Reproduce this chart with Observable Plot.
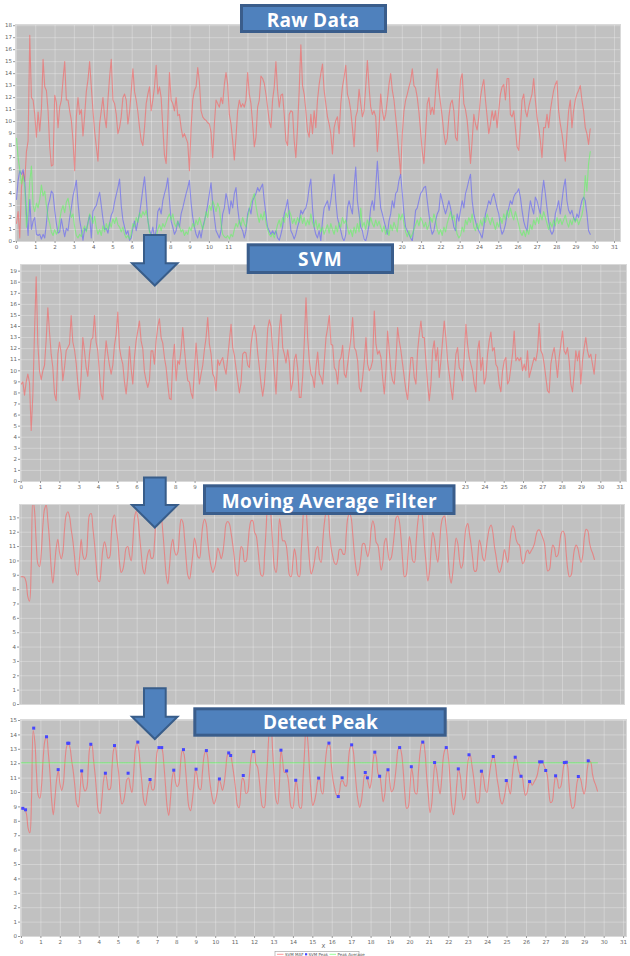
<!DOCTYPE html>
<html><head><meta charset="utf-8">
<script src="https://cdn.jsdelivr.net/npm/d3@7"></script>
<script src="https://cdn.jsdelivr.net/npm/@observablehq/plot@0.6"></script>
<style>
html,body{margin:0;padding:0;background:#fff;}
#page{position:relative;width:630px;height:956px;overflow:hidden;background:#fff;}
</style></head><body><div id="page"></div>
<script>
// ---- data ----
const sampleInterval = 5 / 58; // seconds between readings

// Raw accelerometer axes
const rawAccX = [1.5,2.5,0.3,4.5,5.8,5.0,7.5,8.4,17.2,12.0,11.8,10.6,8.7,10.8,9.2,11.0,15.2,12.9,12.6,10.9,7.9,6.3,6.4,12.2,11.6,9.5,11.2,11.8,13.5,15.0,11.8,11.8,10.9,10.1,8.4,5.9,10.4,12.0,10.6,11.0,8.8,10.5,12.5,13.5,15.0,12.9,10.9,9.2,7.9,6.7,9.8,10.9,12.0,10.4,9.5,11.8,13.7,15.2,11.8,11.5,10.6,9.0,9.5,10.4,12.0,12.3,11.8,9.8,10.8,12.5,14.4,12.5,11.8,10.8,9.5,8.4,8.0,9.5,11.5,12.3,12.9,10.9,11.8,12.9,14.7,12.3,12.9,12.0,9.5,7.2,6.5,10.0,14.1,11.8,11.5,10.9,12.0,10.5,10.6,9.5,8.7,9.0,8.6,8.2,5.9,9.5,11.8,12.6,12.9,14.5,13.3,10.9,10.4,10.2,10.1,9.9,9.8,9.1,7.0,9.8,11.8,11.5,11.2,12.0,11.5,13.1,14.1,13.1,10.6,9.8,8.4,6.8,8.7,10.9,11.8,11.2,11.5,11.2,11.8,14.1,12.3,11.5,9.8,7.9,8.7,11.2,11.8,13.8,13.6,13.2,12.3,11.2,10.0,9.5,11.8,12.9,15.0,12.6,11.2,12.2,12.3,10.6,8.4,8.0,10.6,10.9,10.8,8.4,7.0,9.5,12.6,16.4,13.0,12.3,10.9,9.2,8.7,10.6,9.0,10.9,9.5,11.8,13.1,14.0,14.8,12.6,11.5,10.4,9.8,9.0,7.3,9.5,10.1,10.4,9.0,11.5,12.9,13.7,14.7,12.3,11.8,10.9,9.5,7.9,10.4,10.9,12.7,11.5,10.4,10.9,12.9,15.1,12.9,11.2,10.6,10.9,10.4,7.5,9.5,12.3,10.9,10.1,10.6,11.8,13.1,14.0,12.6,11.8,10.4,9.0,7.3,5.6,9.0,10.9,11.8,12.3,12.9,13.4,14.4,13.0,12.8,12.0,10.8,9.2,7.5,6.5,9.0,11.5,12.0,10.6,11.2,10.6,12.5,14.4,12.6,11.5,10.4,9.0,8.1,8.6,10.4,11.5,11.8,10.9,8.7,8.4,11.0,13.5,14.0,11.5,11.0,10.1,8.5,6.5,8.4,10.6,9.8,9.3,10.4,12.0,12.9,13.5,11.8,10.4,9.0,9.8,10.9,10.1,10.9,9.5,10.9,12.3,12.9,13.1,11.8,13.6,13.6,10.6,10.4,10.9,9.5,7.9,7.6,9.5,11.8,12.3,10.9,10.4,11.2,11.8,12.3,13.6,11.8,10.4,9.5,8.4,7.0,9.5,9.5,10.6,9.5,10.9,11.8,12.6,13.1,13.4,10.9,9.8,9.0,7.9,6.7,9.0,10.9,11.8,9.5,10.9,11.8,12.3,12.6,13.0,11.8,10.9,9.5,9.0,8.1,9.4];
const rawAccY = [3.5,5.1,5.9,5.6,6.0,5.0,2.3,0.5,3.5,1.0,1.7,2.0,0.6,0.5,0.6,0.2,0.6,0.3,1.5,3.0,3.5,4.2,4.0,2.6,1.5,0.7,0.8,1.9,1.1,0.4,1.1,0.9,2.0,2.8,3.8,4.4,5.1,3.2,1.8,1.0,0.1,1.1,0.9,1.6,2.2,0.3,2.5,2.8,3.0,3.6,4.1,3.0,1.9,1.0,1.1,0.7,1.5,2.2,2.5,3.3,3.9,4.5,5.2,3.0,1.8,1.2,0.6,0.9,0.1,0.3,1.1,1.7,0.9,1.7,2.3,3.3,4.4,5.4,3.7,1.8,0.9,0.6,1.2,0.3,0.9,2.5,2.8,2.3,3.4,4.0,4.5,5.3,3.5,1.7,1.2,0.6,0.9,1.7,1.2,2.3,2.8,3.4,4.0,4.5,5.1,3.2,2.0,1.2,0.6,0.3,0.9,0.3,1.2,1.7,2.3,3.1,4.0,4.9,3.1,2.0,0.9,0.6,0.3,0.9,2.3,2.8,4.0,3.4,2.3,3.4,2.8,4.0,4.5,2.8,1.7,1.2,0.9,0.3,0.9,2.3,2.8,2.3,3.4,3.7,4.0,4.5,4.2,4.5,4.8,3.4,2.3,1.2,0.9,0.6,0.9,0.6,0.9,0.3,0.1,0.6,1.2,2.3,2.8,3.5,2.3,0.9,0.6,0.2,0.6,1.2,1.7,2.6,2.3,2.6,2.8,3.4,4.5,5.2,2.8,1.2,0.6,0.3,0.9,0.05,1.7,2.8,3.1,3.4,2.6,3.4,4.5,5.6,3.4,2.0,1.4,0.9,0.3,0.05,0.6,2.8,3.4,2.8,2.3,4.5,6.2,3.4,2.3,1.2,0.9,0.2,0.05,0.6,1.4,2.8,3.4,2.6,4.5,6.7,4.5,2.8,2.3,1.7,1.2,0.6,1.7,2.3,3.4,2.8,4.0,4.2,5.1,5.6,4.0,2.3,1.2,0.9,0.6,0.3,0.05,1.2,2.6,2.8,3.4,4.0,4.2,4.5,4.6,3.4,2.3,1.2,0.6,0.9,1.7,2.3,2.6,4.0,3.4,2.8,2.3,2.8,3.4,2.8,2.0,1.2,0.9,2.3,1.7,2.6,3.4,2.8,4.0,4.5,5.1,5.6,3.4,2.3,1.7,1.2,0.9,0.6,0.3,1.2,2.3,2.8,3.4,3.1,3.7,4.0,3.4,2.8,2.3,1.2,0.6,0.9,1.4,2.3,2.8,3.4,3.1,3.7,4.0,4.1,4.4,3.7,2.6,1.7,1.2,0.9,2.3,3.4,2.8,2.3,3.7,3.4,2.8,2.3,4.0,5.1,4.0,2.8,1.7,0.9,0.6,0.9,2.3,2.8,3.4,2.3,3.4,4.5,5.2,3.4,2.6,2.3,2.6,2.0,1.7,2.3,2.0,2.8,3.4,3.7,3.4,2.3,0.9,0.6];
const rawAccZ = [8.6,7.0,6.0,4.8,5.5,4.5,1.2,2.5,5.0,6.3,3.0,2.5,3.2,2.8,3.5,4.7,3.8,4.2,3.0,2.0,1.5,0.8,0.5,1.0,0.6,0.9,1.8,2.6,3.0,2.4,3.3,3.6,2.8,2.0,2.3,1.2,0.5,0.3,0.6,0.4,1.0,1.3,0.8,1.5,2.3,2.0,1.5,2.1,1.2,0.6,1.0,0.5,1.3,0.8,1.5,1.0,1.6,1.2,1.9,1.5,2.0,1.4,1.2,0.8,1.2,0.6,0.3,0.5,0.2,0.6,1.5,1.2,2.0,1.6,2.4,2.0,2.5,2.2,2.6,1.8,0.8,0.5,0.3,0.6,0.4,1.0,1.4,0.9,1.5,1.2,1.6,2.0,2.3,1.8,2.3,1.5,1.2,1.7,1.3,0.8,1.0,0.5,0.8,0.6,1.2,0.9,1.5,1.2,1.8,1.4,2.0,1.5,1.0,1.6,2.5,2.0,3.0,2.6,3.4,3.0,2.5,3.2,2.8,1.5,0.6,0.4,0.3,0.5,0.2,0.6,0.4,1.0,1.5,1.2,1.8,1.3,2.0,1.5,1.2,2.0,2.6,3.2,3.6,4.0,3.0,2.2,1.6,2.3,1.8,2.5,1.6,1.0,0.6,0.4,0.7,0.3,0.8,1.4,1.8,1.2,2.0,1.6,2.4,2.0,2.6,2.2,1.5,1.9,1.4,2.0,1.6,2.2,1.5,2.0,1.3,1.8,1.4,2.3,1.6,1.2,1.8,1.0,1.5,0.8,1.2,0.6,1.0,1.4,0.7,1.5,1.0,0.6,1.3,0.8,1.6,1.2,2.0,1.5,1.8,1.2,0.6,1.0,0.4,1.2,0.7,1.5,0.8,2.8,1.2,1.6,1.0,1.8,1.3,2.0,1.5,1.2,1.8,1.3,1.7,1.2,0.8,1.3,0.6,1.0,0.5,1.4,0.9,1.6,1.2,0.8,2.3,1.8,2.3,1.5,0.8,0.4,0.9,0.3,0.6,1.0,1.4,1.8,1.3,2.0,1.7,1.2,1.6,1.0,1.4,2.0,1.6,2.3,1.8,1.0,0.6,1.0,0.5,1.2,0.8,1.5,2.0,2.5,1.8,2.2,1.3,0.6,0.3,0.5,1.2,0.8,1.8,1.4,2.0,1.6,2.3,1.2,0.9,1.5,1.0,1.8,1.3,2.0,1.6,2.3,1.8,1.4,2.0,1.5,1.0,1.6,1.2,2.0,1.5,2.3,1.8,2.6,2.0,2.8,2.2,1.8,2.5,2.0,1.4,0.8,0.5,0.9,0.4,1.0,0.6,1.4,1.0,1.8,1.4,2.0,1.5,2.3,1.8,2.5,2.0,1.5,1.0,1.6,1.2,1.8,1.3,2.0,1.5,1.9,1.4,1.8,2.2,1.6,1.2,1.8,1.4,2.0,1.6,1.9,1.4,1.8,2.2,3.0,5.5,4.2,6.5,7.5];

// Signal vector magnitude
const svmValues = [8.8,9.0,7.8,9.0,9.7,8.9,4.6,7.8,13.5,18.5,12.4,10.0,9.2,10.0,10.5,12.8,15.7,13.5,11.5,10.3,7.9,7.3,11.5,12.6,11.6,9.1,10.3,11.8,12.1,12.4,15.0,12.6,11.9,10.7,8.9,7.4,9.5,13.0,11.8,10.3,9.5,11.5,12.8,13.0,15.0,12.6,11.8,9.7,7.9,7.4,10.8,12.7,11.5,10.5,9.7,10.5,12.3,13.3,15.3,12.1,11.2,10.6,9.0,7.9,9.5,12.2,10.2,8.8,11.2,12.7,13.6,14.5,12.7,12.0,9.9,9.1,8.5,9.1,11.8,11.8,10.6,12.7,14.0,14.7,13.0,12.5,11.2,10.3,8.8,7.5,7.4,10.9,12.4,9.1,10.9,10.6,11.9,13.9,12.0,10.3,9.1,9.0,8.0,7.5,10.0,12.5,10.6,8.8,9.7,10.5,11.9,13.0,14.8,12.4,11.5,9.7,9.4,8.2,11.0,10.5,10.9,11.2,10.3,9.7,11.2,12.7,14.2,12.1,11.4,10.2,9.1,8.0,8.9,11.5,11.7,11.6,10.5,10.3,12.4,13.5,14.1,13.3,11.6,10.3,8.8,7.7,8.8,10.9,13.8,14.6,14.0,11.9,9.8,7.9,11.2,13.8,15.1,12.1,11.5,10.7,11.9,10.8,8.2,9.0,11.0,11.5,10.2,7.6,7.6,9.5,12.7,16.6,13.0,10.9,9.7,9.4,8.5,10.3,11.7,9.7,
  9.4,8.8,10.9,13.0,13.9,15.0,12.4,12.3,10.3,10.0,8.8,10.9,11.2,12.3,9.7,9.4,10.6,11.8,13.0,14.8,12.1,11.8,10.9,8.5,8.1,9.4,10.9,13.0,10.6,10.0,10.3,10.9,15.4,12.4,11.5,11.8,11.2,9.4,7.9,10.0,13.6,11.8,10.0,9.1,8.8,10.9,13.9,12.7,11.8,10.6,9.4,8.2,7.4,9.4,11.2,11.2,9.4,8.8,11.8,13.3,14.5,13.0,13.0,10.9,8.8,7.3,8.8,11.8,12.7,10.9,12.1,9.4,10.9,12.7,14.5,13.0,10.9,9.7,8.5,7.4,9.4,11.5,12.1,10.3,10.0,9.1,11.2,14.2,12.4,11.2,10.6,10.0,8.8,8.1,11.8,12.7,10.0,11.2,8.8,9.4,11.5,12.7,13.5,11.8,12.1,10.6,10.3,8.8,8.1,10.0,10.9,11.2,8.8,9.1,10.3,11.5,13.6,10.9,11.2,10.9,11.2,10.0,10.6,10.0,11.8,9.4,10.0,10.6,11.2,10.9,11.8,14.3,11.8,11.5,10.6,9.4,8.2,8.0,10.6,11.5,12.1,10.9,9.4,11.2,12.4,13.6,11.8,11.5,12.1,10.9,8.8,8.1,9.7,11.8,10.9,11.8,8.8,10.9,12.1,13.0,11.8,11.2,11.5,10.6,9.7,11.5];

// SVM after moving average filter
const mafValues = [8.9,8.9,8.85,8.5,7.5,7.2,9.6,14.3,13.5,11.3,9.8,9.6,10.5,12.45,13.6,13.87,12.8,11.4,9.5,8.45,9.6,10.9,11.5,10.6,10.15,10.6,12.2,13.2,13.42,13.1,12.2,11.4,10.3,9.2,9.0,10.2,11.5,10.4,10.1,10.3,12.0,13.2,13.3,12.3,11.2,9.8,8.7,8.55,9.5,10.8,11.34,10.9,10.2,10.25,11.6,12.95,13.2,12.3,11.4,9.9,9.2,9.4,10.1,10.9,11.0,10.4,10.0,11.3,13.0,13.45,13.0,11.76,10.6,9.44,9.1,9.8,10.5,10.8,10.2,10.2,11.3,12.8,13.12,13.15,13.0,12.0,10.5,9.0,8.4,9.6,11.0,11.5,10.7,10.4,10.6,12.0,12.9,12.7,11.6,10.1,9.0,8.74,9.44,10.5,11.6,11.06,10.3,10.2,11.3,12.5,12.9,12.6,11.3,10.3,9.6,9.2,9.5,10.1,10.9,10.6,10.15,10.6,11.6,12.6,12.75,12.57,11.9,11.1,10.1,9.1,8.95,10.1,11.0,10.8,9.95,10.0,11.0,12.3,12.8,12.8,12.0,11.76,10.9,9.7,9.0,8.95,10.36,12.3,14.2,14.6,12.9,11.0,9.5,9.2,10.5,12.94,12.2,11.4,11.4,11.1,10.1,9.0,8.9,9.9,10.85,10.2,9.0,8.9,10.6,12.7,14.6,13.6,11.6,10.0,9.1,9.4,10.0,10.8,11.0,
  10.13,9.9,11.4,12.7,13.3,13.3,12.0,10.9,10.3,9.85,9.75,10.1,10.8,10.8,10.5,10.45,11.8,13.0,13.3,13.0,11.8,10.4,9.45,8.97,9.4,10.4,11.2,11.2,10.7,10.3,10.8,12.2,12.8,12.4,11.3,11.13,10.3,9.35,9.9,11.3,11.58,10.7,10.05,10.2,10.9,12.0,13.0,13.12,12.7,11.5,9.9,8.9,9.0,10.3,11.7,11.0,10.0,9.9,11.3,12.7,13.4,13.5,12.8,11.1,9.8,8.6,9.2,10.9,12.0,11.5,10.5,9.9,11.0,12.5,13.0,13.12,12.4,10.8,9.1,8.45,9.2,10.6,11.6,11.2,10.1,9.5,9.8,11.3,12.35,12.6,11.9,11.1,10.1,9.3,9.3,10.3,11.45,11.0,10.2,10.0,10.8,11.7,12.3,12.5,12.0,11.0,10.3,9.5,9.2,9.5,10.1,10.8,10.3,9.9,11.0,12.0,12.45,12.2,11.5,11.2,11.1,10.3,9.8,10.0,10.6,10.76,10.5,10.7,10.9,11.2,11.8,12.13,12.15,11.9,11.6,11.2,10.0,9.3,9.4,10.4,11.1,10.9,10.3,10.4,11.1,11.9,12.08,11.9,10.6,9.4,8.9,9.0,9.9,10.8,11.1,10.9,10.3,9.9,10.4,11.7,12.2,12.1,11.3,10.8,10.5,10.1];

// Detected peaks
const peakTimes = [0.07,0.21,0.63,1.29,1.89,2.38,2.44,3.10,3.57,4.32,4.79,5.49,5.99,6.62,7.08,7.22,7.84,8.34,8.99,9.52,10.19,10.67,10.77,11.42,11.96,12.83,13.36,13.65,14.12,14.65,15.30,15.83,16.31,16.51,17.00,17.70,17.81,18.19,18.44,18.87,19.47,20.07,20.66,21.27,21.87,22.49,23.04,23.68,24.29,24.96,25.42,25.72,26.16,26.68,26.80,26.99,27.50,27.95,28.05,28.67,29.18];
const peakValues = [8.9,8.8,14.47,13.87,11.59,13.42,13.42,11.5,13.35,11.34,13.26,11.34,13.5,10.9,13.12,13.12,11.55,12.98,11.62,12.91,10.94,12.75,12.57,11.18,12.84,14.6,12.94,11.5,10.85,14.6,11.0,13.43,9.72,11.02,13.31,11.39,11.02,12.8,11.13,11.58,13.12,11.79,13.5,12.08,13.12,11.64,12.62,11.48,12.5,10.83,12.45,11.13,10.76,12.13,12.13,11.53,11.16,12.08,12.1,11.11,12.2];
const peakAverage = 12.06;

// Text
const panelTitles = ["Raw Data", "SVM", "Moving Average Filter", "Detect Peak"];
const legendNames = ["SVM MAF", "SVM Peak", "Peak Average"];
const xAxisLabel = "X";
const xTickValues = [0,1,2,3,4,5,6,7,8,9,10,11,12,13,14,15,16,17,18,19,20,21,22,23,24,25,26,27,28,29,30,31];
const yTicks18 = [0,1,2,3,4,5,6,7,8,9,10,11,12,13,14,15,16,17,18];
const yTicks19 = [0,1,2,3,4,5,6,7,8,9,10,11,12,13,14,15,16,17,18,19];
const yTicks13 = [0,1,2,3,4,5,6,7,8,9,10,11,12,13];
const yTicks15 = [0,1,2,3,4,5,6,7,8,9,10,11,12,13,14,15];

// ---- overlay geometry (title boxes and arrows drawn on top) ----
const arrowGeo = [
  {x0: 144, x1: 165.7, top: 235, head: 263.3, tip: 285.5},
  {x0: 144, x1: 165.7, top: 477.5, head: 505, tip: 527.5},
  {x0: 144, x1: 165.7, top: 688.3, head: 716.7, tip: 739}
];
const titleGeo = [
  {x: 240, y: 4, w: 147, h: 29, tx: 266.7, ty: 26.7, tw: 92.6},
  {x: 246.7, y: 243.3, w: 147.3, h: 30.7, tx: 298, ty: 265.7, tw: 43.7},
  {x: 203, y: 484.3, w: 252.5, h: 30.7, tx: 221.7, ty: 507.7, tw: 215},
  {x: 193.3, y: 707.3, w: 253.4, h: 29.4, tx: 263, ty: 729.3, tw: 114.7}
];

// ---- build ----
const toSeries = vals => vals.map((v, i) => ({t: i * sampleInterval, v}));
const redS = toSeries(rawAccX), blueS = toSeries(rawAccY), greenS = toSeries(rawAccZ);
const svmS = toSeries(svmValues), mafS = toSeries(mafValues);
const peaks = peakTimes.map((t, i) => ({t, v: peakValues[i]}));

const RED = "#ff5555", BLUE = "#5555ff", GREEN = "#55ff55";
const gridStyle = {stroke: "#ffffff", strokeOpacity: 0.4, strokeWidth: 0.7};
const page = document.getElementById("page");

function addPanel(spec, marks) {
  const height = spec.bottom - spec.svgTop + spec.mb;
  // tick labels hidden behind the overlaid boxes / arrows
  const toPx = t => spec.left + (t - spec.xDomain[0]) / (spec.xDomain[1] - spec.xDomain[0]) * (spec.right - spec.left);
  const covers = spec.covers || [];
  const visibleTicks = xTickValues.filter(t => {
    const p = toPx(t);
    return !covers.some(([a, b]) => p + 3 > a && p - 3 < b);
  });
  const svg = Plot.plot({
    width: 630, height,
    marginLeft: spec.left, marginRight: 630 - spec.right,
    marginTop: spec.top - spec.svgTop, marginBottom: spec.mb,
    x: {domain: spec.xDomain},
    y: {domain: spec.yDomain},
    style: {fontSize: "5.5px", fontFamily: "DejaVu Sans, sans-serif", color: "#666", background: "transparent", overflow: "visible"},
    marks: [
      Plot.frame({fill: "#c1c1c1"}),
      Plot.gridX(xTickValues, gridStyle),
      Plot.gridY(spec.yTicks, gridStyle),
      ...marks,
      Plot.frame({stroke: "#d9d9d9", strokeWidth: 1}),
      Plot.axisY(spec.yTicks, {tickSize: 2, tickPadding: 1.5, label: null, stroke: "#999"}),
      spec.xLabels
        ? Plot.axisX(visibleTicks, {tickSize: 2, tickPadding: 1.5, label: null, stroke: "#999"})
        : Plot.tickX(xTickValues, {x: d => d, y1: spec.yDomain[0], y2: spec.yDomain[0], stroke: "#999"})
    ]
  });
  svg.style.position = "absolute";
  svg.style.left = "0px";
  svg.style.top = spec.svgTop + "px";
  svg.style.maxWidth = "none";
  page.appendChild(svg);
}

const lineOpts = (stroke, extra = {}) => ({x: "t", y: "v", stroke, strokeOpacity: 0.55, strokeWidth: 1.1, clip: true, ...extra});

addPanel({svgTop: 20, left: 15, right: 620, top: 24, bottom: 241, mb: 12,
  xDomain: [-0.05, 31.31], yDomain: [0, 18.1], yTicks: yTicks18, xLabels: true,
  covers: [[titleGeo[1].x, titleGeo[1].x + titleGeo[1].w], [arrowGeo[0].x0, arrowGeo[0].x1]]}, [
  Plot.line(redS, lineOpts(RED)),
  Plot.line(blueS, lineOpts(BLUE)),
  Plot.line(greenS, lineOpts(GREEN))
]);
addPanel({svgTop: 260, left: 20, right: 626, top: 264, bottom: 481, mb: 12,
  xDomain: [-0.036, 31.33], yDomain: [0, 19.6], yTicks: yTicks19, xLabels: true,
  covers: [[titleGeo[2].x, titleGeo[2].x + titleGeo[2].w], [arrowGeo[1].x0, arrowGeo[1].x1]]}, [
  Plot.line(svmS, lineOpts(RED))
]);
addPanel({svgTop: 500, left: 19, right: 624, top: 504, bottom: 704, mb: 3,
  xDomain: [-0.088, 31.21], yDomain: [0, 13.93], yTicks: yTicks13, xLabels: true,
  covers: [[0, 630]]}, [
  Plot.line(mafS, lineOpts(RED, {curve: "catmull-rom"}))
]);
addPanel({svgTop: 715, left: 20, right: 626, top: 719, bottom: 936, mb: 12,
  xDomain: [-0.05, 31.15], yDomain: [0, 15.07], yTicks: yTicks15, xLabels: true}, [
  Plot.line(mafS, lineOpts(RED, {curve: "catmull-rom"})),
  Plot.line(mafS, {x: "t", y: () => peakAverage, stroke: GREEN, strokeOpacity: 0.7, strokeWidth: 1}),
  Plot.dot(peaks, {x: "t", y: "v", symbol: "square", r: 1.7, fill: "#4646ff", stroke: "none"})
]);

// ---- overlay: title boxes, arrows, axis label, legend ----
const ov = d3.select(page).append("svg")
  .attr("width", 630).attr("height", 956)
  .style("position", "absolute").style("left", "0px").style("top", "0px");

arrowGeo.forEach(a => {
  ov.append("path")
    .attr("d", `M${a.x0},${a.top} L${a.x1},${a.top} L${a.x1},${a.head} L177.5,${a.head} L154.8,${a.tip} L132,${a.head} L${a.x0},${a.head} Z`)
    .attr("fill", "#4f81bd").attr("stroke", "#385d8a").attr("stroke-width", 2).attr("stroke-linejoin", "miter");
});

titleGeo.forEach((b, i) => {
  ov.append("rect").attr("x", b.x + 1.5).attr("y", b.y + 1.5).attr("width", b.w - 3).attr("height", b.h - 3)
    .attr("fill", "#4f81bd").attr("stroke", "#3a5d8b").attr("stroke-width", 3);
  ov.append("text").attr("x", b.tx).attr("y", b.ty)
    .attr("textLength", b.tw).attr("lengthAdjust", "spacing")
    .attr("fill", "#ffffff").attr("font-family", "Open Sans, Lato, sans-serif")
    .attr("font-weight", 700).attr("font-size", 19)
    .text(panelTitles[i]);
});

ov.append("text").attr("x", 323.3).attr("y", 947.8).attr("text-anchor", "middle")
  .attr("font-family", "DejaVu Sans, sans-serif").attr("font-size", 5.5).attr("fill", "#555")
  .text(xAxisLabel);

const lg = ov.append("g").attr("font-family", "DejaVu Sans, sans-serif").attr("font-size", 4).attr("fill", "#555");
lg.append("rect").attr("x", 275).attr("y", 951.5).attr("width", 84).attr("height", 8)
  .attr("fill", "#fff").attr("stroke", "#999").attr("stroke-width", 0.6);
const legendGeo = [
  {kind: "line", color: RED, sx: 277, tx: 285},
  {kind: "dot", color: "#4646ff", sx: 305, tx: 308.5},
  {kind: "line", color: GREEN, sx: 329.5, tx: 337.5}
];
legendGeo.forEach((g, i) => {
  if (g.kind === "line") {
    lg.append("line").attr("x1", g.sx).attr("x2", g.sx + 6.5).attr("y1", 954.3).attr("y2", 954.3)
      .attr("stroke", g.color).attr("stroke-opacity", 0.6).attr("stroke-width", 1);
  } else {
    lg.append("rect").attr("x", g.sx).attr("y", 953.2).attr("width", 2.2).attr("height", 2.2).attr("fill", g.color);
  }
  lg.append("text").attr("x", g.tx).attr("y", 955.8).text(legendNames[i]);
});
</script>
</body></html>
